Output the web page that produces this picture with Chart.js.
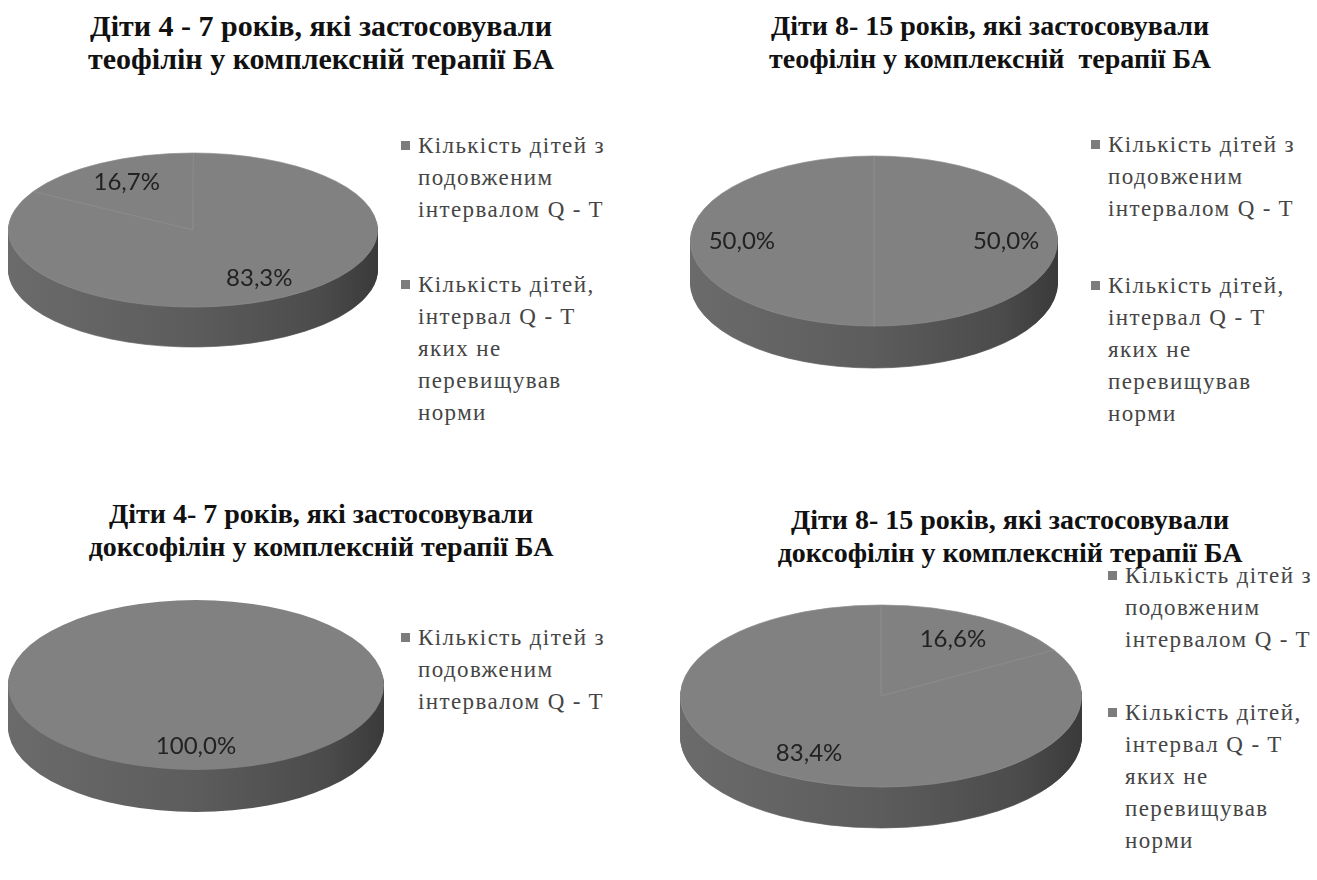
<!DOCTYPE html>
<html>
<head>
<meta charset="utf-8">
<script src="https://cdn.jsdelivr.net/npm/chart.js@4.4.0/dist/chart.umd.min.js"></script>
<style>
body { margin: 0; background: #fff; width: 1317px; height: 880px; position: relative; overflow: hidden; }
canvas { position: absolute; }
.title { position: absolute; font-family: "Liberation Serif", serif; font-weight: bold; color: #111; text-align: center; line-height: 33px; white-space: pre; transform: translateX(-50%); }
.legend { position: absolute; font: 23px "Liberation Serif", serif; letter-spacing: 1.4px; color: #454545; line-height: 32px; white-space: nowrap; }
.legend .item { position: relative; padding-left: 17px; }
.legend .box { position: absolute; left: 0; top: 11px; width: 9px; height: 9px; }
</style>
</head>
<body>
<script>
// ----------- Data -----------
const titles = [
    ["Діти 4 - 7 років, які застосовували", "теофілін у комплексній терапії БА"],
    ["Діти 8- 15 років, які застосовували", "теофілін у комплексній  терапії БА"],
    ["Діти 4- 7 років, які застосовували", "доксофілін у комплексній терапії БА"],
    ["Діти 8- 15 років, які застосовували", "доксофілін у комплексній терапії БА"]
];
const categories = [
    ["Кількість дітей з", "подовженим", "інтервалом Q - T"],
    ["Кількість дітей,", "інтервал Q - T", "яких не", "перевищував", "норми"]
];
const teo4to7 = [16.7, 83.3];
const teo8to15 = [50.0, 50.0];
const dox4to7 = [100.0];
const dox8to15 = [16.6, 83.4];

// ----------- Layout -----------
const panels = [
    { values: teo4to7,  title: titles[0], cx: 193, cy: 230, rx: 185, ry: 77, depth: 40, rotation: -60, tx: 321, ty: 9,   ts: 30, lx: 401,  ly: 130, gap: 43 },
    { values: teo8to15, title: titles[1], cx: 874, cy: 241, rx: 184, ry: 85, depth: 42, rotation: 0,   tx: 990, ty: 9,   ts: 28, lx: 1091, ly: 129, gap: 45 },
    { values: dox4to7,  title: titles[2], cx: 196, cy: 685, rx: 188, ry: 85, depth: 42, rotation: 0,   tx: 321, ty: 497, ts: 28, lx: 401,  ly: 622, gap: 43 },
    { values: dox8to15, title: titles[3], cx: 881, cy: 696, rx: 201, ry: 91, depth: 41, rotation: 0,   tx: 1010, ty: 503, ts: 28, lx: 1108, ly: 560, gap: 41 }
];

const faceColor = "#818181";

// ----------- Plugins -----------
// squash the pie to an ellipse and build the side out of the arcs themselves
const tilt = {
    id: "tilt",
    beforeDatasetsDraw(chart, args, opts) {
        const ctx = chart.ctx;
        const meta = chart.getDatasetMeta(0);
        const a0 = meta.data[0];
        const r = a0.outerRadius;
        const k = opts.ry / r;
        ctx.save();
        ctx.translate(a0.x, a0.y);
        ctx.scale(1, k);
        ctx.translate(-a0.x, -a0.y);
        const side = ctx.createLinearGradient(a0.x - r, 0, a0.x + r, 0);
        side.addColorStop(0, "#6b6b6b");
        side.addColorStop(0.5, "#5c5c5c");
        side.addColorStop(0.85, "#4b4b4b");
        side.addColorStop(1, "#3a3a3a");
        for (let d = opts.depth; d > 0; d--) {
            ctx.save();
            ctx.translate(0, d / k);
            meta.data.forEach(arc => {
                const fake = Object.create(arc);
                fake.options = Object.assign({}, arc.options, { backgroundColor: side, borderColor: side });
                fake.draw(ctx);
            });
            ctx.restore();
        }
    },
    afterDatasetsDraw(chart) {
        chart.ctx.restore();
    }
};

const pctLabels = {
    id: "pctLabels",
    afterDraw(chart, args, opts) {
        const ctx = chart.ctx;
        const meta = chart.getDatasetMeta(0);
        const values = chart.data.datasets[0].data;
        ctx.save();
        ctx.font = '24px Lato, "Open Sans", sans-serif';
        ctx.fillStyle = "#222";
        ctx.textAlign = "center";
        ctx.textBaseline = "middle";
        meta.data.forEach((arc, i) => {
            const r = arc.outerRadius;
            const k = opts.ry / r;
            const mid = (arc.startAngle + arc.endAngle) / 2;
            const x = arc.x + Math.cos(mid) * r * 0.72;
            const y = arc.y + Math.sin(mid) * r * 0.72 * k;
            ctx.fillText(values[i].toFixed(1).replace(".", ",") + "%", x, y);
        });
        ctx.restore();
    }
};

// ----------- Build -----------
panels.forEach(p => {
    const t = document.createElement("div");
    t.className = "title";
    t.style.left = p.tx + "px";
    t.style.top = p.ty + "px";
    t.style.fontSize = p.ts + "px";
    t.textContent = p.title.join("\n");
    document.body.appendChild(t);

    const size = 2 * p.rx;
    const cv = document.createElement("canvas");
    cv.width = size;
    cv.height = size;
    cv.style.left = (p.cx - p.rx) + "px";
    cv.style.top = (p.cy - p.rx) + "px";
    document.body.appendChild(cv);

    const lg = document.createElement("div");
    lg.className = "legend";
    lg.style.left = p.lx + "px";
    lg.style.top = p.ly + "px";
    p.values.forEach((v, i) => {
        const item = document.createElement("div");
        item.className = "item";
        if (i > 0) item.style.marginTop = p.gap + "px";
        item.innerHTML = '<span class="box" style="background:#7c7c7c"></span>' + categories[i].join("<br>");
        lg.appendChild(item);
    });
    document.body.appendChild(lg);

    new Chart(cv, {
        type: "pie",
        data: {
            labels: categories.slice(0, p.values.length).map(c => c.join(" ")),
            datasets: [{
                data: p.values,
                backgroundColor: faceColor,
                borderColor: "#8f8f8f",
                borderWidth: p.values.length > 1 ? 1 : 0
            }]
        },
        options: {
            responsive: false,
            animation: false,
            rotation: p.rotation,
            layout: { padding: 0 },
            events: [],
            plugins: {
                legend: { display: false },
                tooltip: { enabled: false },
                tilt: { ry: p.ry, depth: p.depth },
                pctLabels: { ry: p.ry }
            }
        },
        plugins: [tilt, pctLabels]
    });
});
</script>
</body>
</html>
